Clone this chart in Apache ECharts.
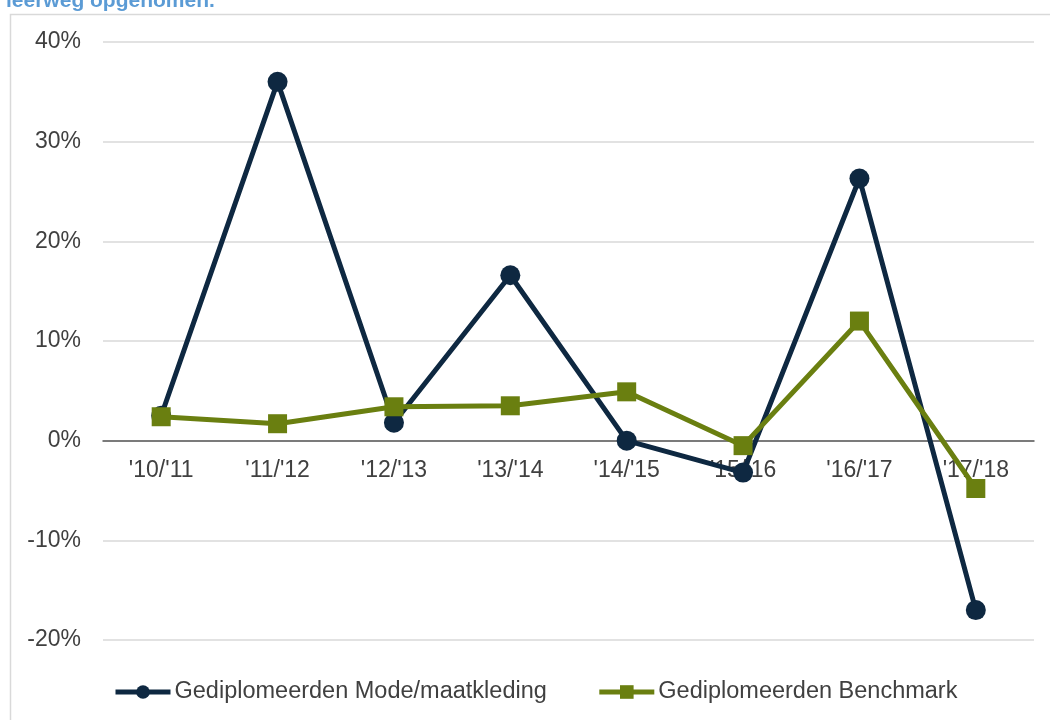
<!DOCTYPE html>
<html>
<head>
<meta charset="utf-8">
<script src="https://cdn.jsdelivr.net/npm/echarts@6/dist/echarts.min.js"></script>
<style>html,body{margin:0;padding:0;background:#fff}#c{width:1050px;height:720px}</style>
</head>
<body>
<div id="c"></div>
<script>
const categories = ["'10/'11", "'11/'12", "'12/'13", "'13/'14", "'14/'15", "'15/'16", "'16/'17", "'17/'18"];
const modeValues = [2.5, 36.0, 1.8, 16.6, 0.0, -3.2, 26.3, -17.0];
const benchmarkValues = [2.4, 1.7, 3.4, 3.5, 4.9, -0.5, 12.0, -4.8];
const seriesNames = ["Gediplomeerden Mode/maatkleding", "Gediplomeerden Benchmark"];
const titleText = "leerweg opgenomen.";

const chart = echarts.init(document.getElementById('c'), null, {renderer: 'canvas'});
const font = 'Liberation Sans, Arial, sans-serif';
const yMin = -20, yMax = 40, gridTop = 42, gridBottom = 80;
const plotH = 720 - gridTop - gridBottom;
const zeroOffset = -plotH * (0 - yMin) / (yMax - yMin);
chart.setOption({
  animation: false,
  backgroundColor: '#ffffff',
  graphic: [
    {type: 'rect', left: 8, top: 12, shape: {x: 0, y: 0, width: 1100, height: 800},
     style: {fill: 'none', stroke: '#d9d9d9', lineWidth: 1.5}, z: 0},
    {type: 'text', x: 6, y: 12, style: {text: titleText, fill: '#5b9bd5',
     font: 'bold 21px ' + font, textVerticalAlign: 'bottom'}}
  ],
  grid: {left: 103, right: 16, top: gridTop, bottom: gridBottom, containLabel: false},
  legend: {
    left: 113, top: 680, padding: 0, itemWidth: 55, itemHeight: 17, itemGap: 50,
    lineStyle: {width: 5},
    textStyle: {fontSize: 23.5, color: '#404040', fontFamily: font, padding: [0, 0, 0, -1]},
    data: seriesNames
  },
  xAxis: {
    type: 'category', data: categories, boundaryGap: true,
    offset: zeroOffset,
    axisLine: {onZero: false, lineStyle: {color: '#595959', width: 1.5}},
    axisTick: {show: false},
    axisLabel: {fontSize: 23, color: '#404040', fontFamily: font, margin: 18, interval: 0},
    splitLine: {show: false}
  },
  yAxis: {
    type: 'value', min: yMin, max: yMax, interval: 10,
    axisLine: {show: false}, axisTick: {show: false},
    axisLabel: {fontSize: 23, color: '#404040', fontFamily: font, margin: 22, formatter: '{value}%'},
    splitLine: {lineStyle: {color: '#d9d9d9', width: 1.5}}
  },
  series: [
    {name: seriesNames[0], type: 'line', data: modeValues, symbol: 'circle', symbolSize: 20,
     lineStyle: {color: '#0e2841', width: 5}, itemStyle: {color: '#0e2841'}, z: 3},
    {name: seriesNames[1], type: 'line', data: benchmarkValues, symbol: 'rect', symbolSize: 19,
     lineStyle: {color: '#6a7f10', width: 5}, itemStyle: {color: '#6a7f10'}, z: 4}
  ]
});
</script>
</body>
</html>
